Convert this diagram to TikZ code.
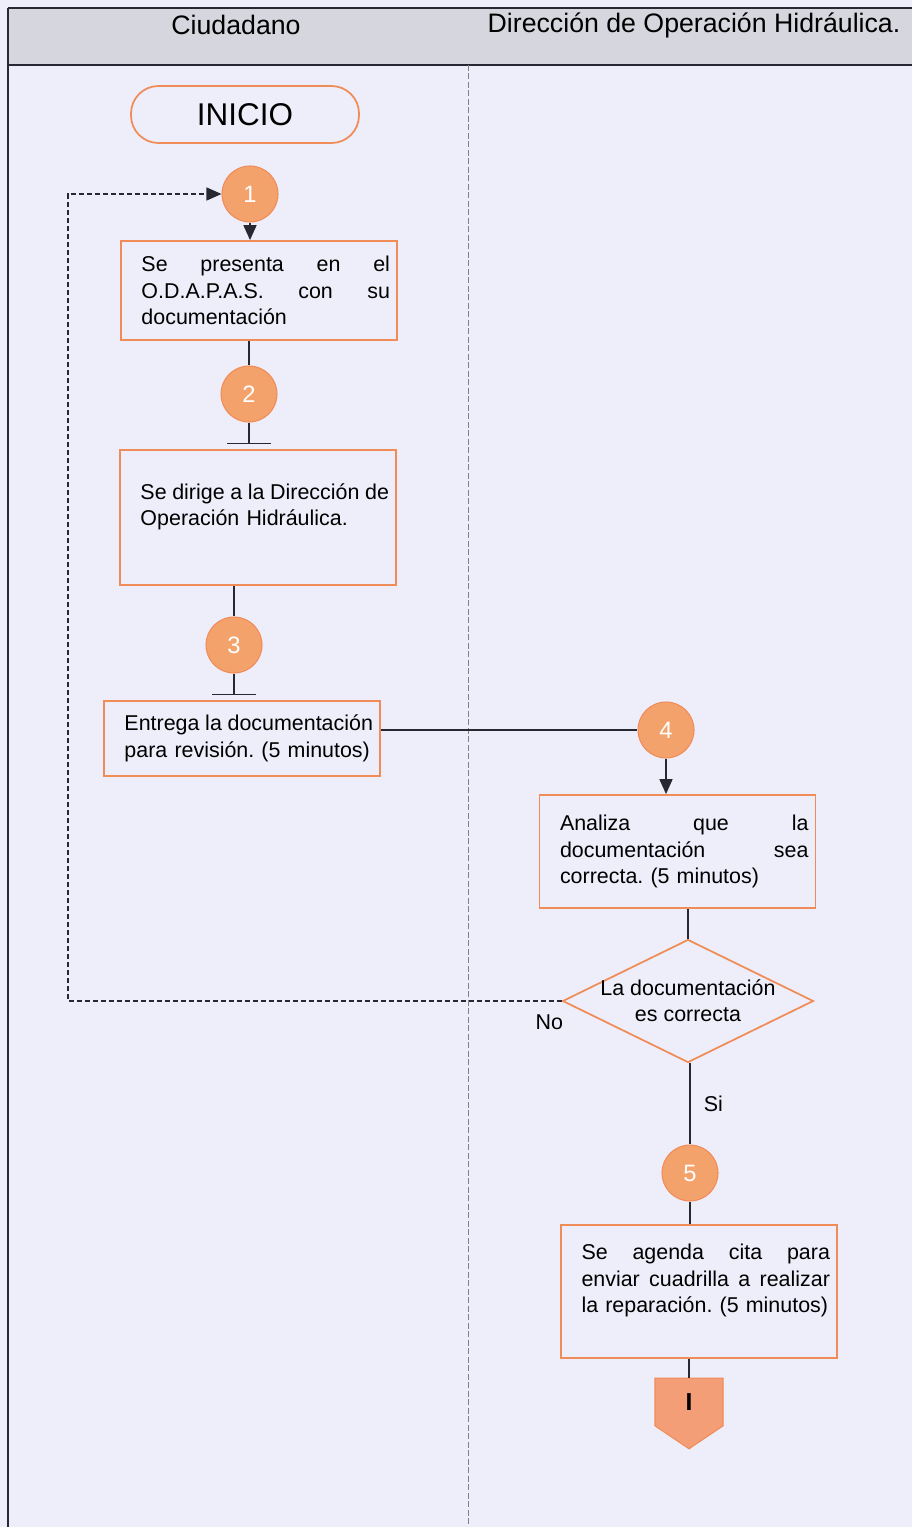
\documentclass[tikz,border=0pt]{standalone}
\usepackage{fontspec}
\setmainfont{Liberation Sans}
\usetikzlibrary{shapes.geometric,shapes.symbols,arrows.meta}

\definecolor{fondo}{RGB}{238,238,250}
\definecolor{cabecera}{RGB}{214,214,222}
\definecolor{naranja}{RGB}{240,140,88}
\definecolor{circulo}{RGB}{243,162,108}
\definecolor{conector}{RGB}{244,158,120}
\definecolor{linea}{RGB}{40,40,50}
\newcommand{\pxu}{0.02cm}
\frenchspacing

\tikzset{
  caja/.style={draw=naranja, line width=1pt, minimum width=276*\pxu, inner sep=0pt,
    text width=262*\pxu, align=left, font=\fontsize{12.2}{15}\selectfont,
    execute at begin node={\leftskip=0.27cm\relax}},
  paso/.style={circle, fill=circulo, draw=naranja, line width=0.6pt, minimum size=56*\pxu,
    inner sep=0pt, text=white, font=\fontsize{13.5}{14}\selectfont},
  flecha/.style={-{Triangle[length=0.3cm,width=0.26cm]}},
  tope/.style={-{Bar[width=0.9cm,line width=0.9pt]}, shorten >=0.1cm},
  etiqueta/.style={font=\fontsize{12.2}{15}\selectfont, inner sep=0pt}
}

\begin{document}
\begin{tikzpicture}[x=\pxu, y=-\pxu, line width=0.9pt, draw=linea]
\fill [fondo] (0,0) rectangle (912,1527);
\useasboundingbox (0,0) rectangle (912,1527);

% encabezado
\fill [cabecera] (8,8) rectangle (912,65);
\draw [line width=1pt] (8,8) -- (912,8);
\draw [line width=1pt] (8,65) -- (912,65);
\draw [line width=1pt] (8,8) -- (8,1527);
\draw [line width=0.5pt, gray, dash pattern=on 0.12cm off 0.05cm] (468,65) -- (468,1527);

\node [font=\fontsize{15.2}{16}\selectfont] (ciudadano) at (236,25) {Ciudadano};
\node [font=\fontsize{15.2}{16}\selectfont] (direccion) at (694,25) {Dirección de Operación Hidráulica.};

% nodos
\node [draw=naranja, line width=1pt, rounded corners=0.55cm, minimum width=228*\pxu,
  minimum height=57*\pxu, font=\fontsize{17.9}{18}\selectfont] (inicio) at (245,114.5) {INICIO};

\node [paso] (c1) at (250,194) {1};
\node [caja, minimum height=99*\pxu] (b1) at (259,290.5)
  {Se\hfill presenta\hfill en\hfill el\\ O.D.A.P.A.S.\hfill con\hfill su\\ documentación};

\node [paso] (c2) at (249,394) {2};
\node [caja, minimum height=135*\pxu] (b2) at (258,517.5)
  {Se\hfill dirige\hfill a\hfill la\hfill Dirección\hfill de\\ Operación Hidráulica.\\ \mbox{}};

\node [paso] (c3) at (234,645) {3};
\node [caja, minimum height=75*\pxu] (b3) at (242,738.5)
  {Entrega\hfill la\hfill documentación\\ para revisión. (5 minutos)};

\node [paso] (c4) at (666,730) {4};
\node [caja, minimum height=113*\pxu] (b4) at (677.5,851.5)
  {Analiza\hfill que\hfill la\\ documentación\hfill sea\\ correcta. (5 minutos)};

\node [diamond, aspect=2.04, draw=naranja, line width=1pt, inner sep=-1pt, minimum width=244*\pxu,
  minimum height=120*\pxu, align=center, font=\fontsize{12.2}{15}\selectfont] (d) at (688,1001)
  {La documentación\\es correcta};

\node [paso] (c5) at (690,1173) {5};
\node [caja, minimum height=133*\pxu] (b5) at (699,1291.5)
  {Se\hfill agenda\hfill cita\hfill para\\ enviar\hfill cuadrilla\hfill a\hfill realizar\\ la reparación. (5 minutos)\\ \mbox{}};

\node [signal, signal to=south, signal pointer angle=112, fill=conector, draw=naranja, line width=0.6pt,
  minimum width=68*\pxu, minimum height=50*\pxu, inner sep=0pt, font=\fontsize{14}{14}\bfseries] (fin) at (689,1402) {I};

\coordinate (giro) at (68,1001);

% conectores
\draw [flecha] (c1) -- (c1 |- b1.north);
\draw (c2 |- b1.south) -- (c2);
\draw [tope] (c2) -- (c2 |- b2.north);
\draw (c3 |- b2.south) -- (c3);
\draw [tope] (c3) -- (c3 |- b3.north);
\draw (b3.east |- c4) -- (c4);
\draw [flecha] (c4) -- (c4 |- b4.north);
\draw (d.north |- b4.south) -- (d.north);
\draw [flecha, dash pattern=on 0.1cm off 0.06cm, line width=0.8pt] (d.west)
  node [etiqueta, anchor=north east, xshift=0.04cm, yshift=-0.26cm] {No} -- (giro) |- (c1);
\draw (c5 |- d.south) -- node [etiqueta, right=0.26cm] {Si} (c5);
\draw (c5) -- (c5 |- b5.north);
\draw (fin |- b5.south) -- (fin.north);
\end{tikzpicture}
\end{document}
